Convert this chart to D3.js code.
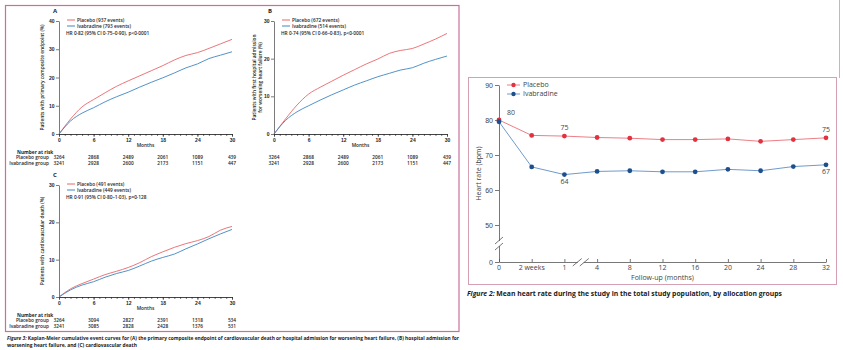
<!DOCTYPE html>
<html>
<head>
<meta charset="utf-8">
<script src="https://cdn.jsdelivr.net/npm/d3@7"></script>
<style>
    body { margin: 0; background: #fff; }
    svg { display: block; font-family: "Open Sans", "DejaVu Sans", sans-serif; }
</style>
</head>
<body>
<div id="chart"></div>
<script>
    "use strict";

    // kaplan-meier curves, cumulative event rate (%) by month
    const kmMonths = [0, 2, 4, 6, 8, 10, 12, 14, 16, 18, 20, 22, 24, 26, 28, 30];
    const primaryPlacebo = [0, 5.3, 9.6, 12.2, 14.6, 16.9, 18.8, 20.6, 22.4, 24.2, 26.2, 27.8, 28.8, 30.3, 31.9, 33.5];
    const primaryIvabradine = [0, 4.6, 7.4, 9.3, 11.4, 13.2, 14.8, 16.6, 18.3, 19.9, 21.6, 23.4, 24.8, 26.7, 27.9, 29.1];
    const hospitalPlacebo = [0, 4.0, 7.7, 10.6, 12.4, 14.0, 15.6, 17.1, 18.6, 19.9, 21.4, 22.2, 22.7, 23.9, 25.2, 26.7];
    const hospitalIvabradine = [0, 3.6, 5.9, 7.5, 9.0, 10.4, 11.7, 13.0, 14.1, 15.2, 16.1, 17.0, 17.6, 18.8, 19.8, 20.7];
    const cvDeathPlacebo = [0, 2.2, 3.6, 4.8, 6.0, 6.9, 7.9, 9.2, 10.8, 12.1, 13.3, 14.3, 15.1, 16.2, 17.9, 18.9];
    const cvDeathIvabradine = [0, 1.9, 3.2, 4.1, 5.3, 6.3, 7.1, 8.3, 9.6, 10.6, 11.5, 12.9, 14.2, 15.6, 16.9, 18.1];

    // number at risk
    const riskMonths = [0, 6, 12, 18, 24, 30];
    const primaryRiskPlacebo = [3264, 2868, 2489, 2061, 1089, 439];
    const primaryRiskIvabradine = [3241, 2928, 2600, 2173, 1151, 447];
    const hospitalRiskPlacebo = [3264, 2868, 2489, 2061, 1089, 439];
    const hospitalRiskIvabradine = [3241, 2928, 2600, 2173, 1151, 447];
    const cvDeathRiskPlacebo = [3264, 3094, 2827, 2391, 1318, 534];
    const cvDeathRiskIvabradine = [3241, 3085, 2828, 2428, 1376, 531];

    // mean heart rate (bpm) by visit
    const hrVisits = ["0", "2 weeks", "1", "4", "8", "12", "16", "20", "24", "28", "32"];
    const hrPlacebo = [80.0, 75.6, 75.4, 75.0, 74.8, 74.4, 74.4, 74.6, 73.9, 74.4, 74.9];
    const hrIvabradine = [79.5, 66.6, 64.4, 65.3, 65.5, 65.2, 65.2, 65.9, 65.5, 66.7, 67.2];
    const hrTicks = [0, 50, 60, 70, 80, 90];

    const kmRed = "#e8676b";
    const kmBlue = "#3f86c2";
    const kmText = "#1e1e1e";

    let svg = d3.select("#chart").append("svg")
        .attr("width", 843)
        .attr("height", 350);

    svg.append("rect").attr("width", 843).attr("height", 350).attr("fill", "#fff");

    // draws one kaplan-meier panel with legend and number at risk
    function drawKmPanel(p) {
        let x = d3.scaleLinear().domain([0, 30]).range([p.left, p.right]);
        let y = d3.scaleLinear().domain([0, p.yMax]).range([p.bottom, p.top]);
        let g = svg.append("g").attr("class", "km-panel").attr("font-weight", 600);

        // monthly minor ticks
        g.append("g")
            .attr("transform", "translate(0," + p.bottom + ")")
            .call(d3.axisBottom(x).tickValues(d3.range(0, 31)).tickSize(2).tickSizeOuter(0).tickFormat(""))
            .call(a => a.selectAll("line, path").attr("stroke", "#222").attr("stroke-width", 0.6));

        g.append("g")
            .attr("transform", "translate(0," + p.bottom + ")")
            .call(d3.axisBottom(x).tickValues(riskMonths).tickSize(3).tickSizeOuter(0).tickPadding(1.5))
            .call(a => a.selectAll("line, path").attr("stroke", "#222").attr("stroke-width", 0.6))
            .call(a => a.selectAll("text").attr("font-size", 5).attr("fill", kmText).attr("font-family", null));

        g.append("g")
            .attr("transform", "translate(" + p.left + ",0)")
            .call(d3.axisLeft(y).tickValues(d3.range(0, p.yMax + 1, 10)).tickSize(3).tickSizeOuter(0).tickPadding(1.5))
            .call(a => a.selectAll("line, path").attr("stroke", "#222").attr("stroke-width", 0.6))
            .call(a => a.selectAll("text").attr("font-size", 5).attr("fill", kmText).attr("font-family", null));

        let line = d3.line()
            .x((d, i) => x(kmMonths[i]))
            .y(d => y(d))
            .curve(d3.curveMonotoneX);

        g.append("path").datum(p.placebo)
            .attr("d", line).attr("fill", "none").attr("stroke", kmRed).attr("stroke-width", 0.9);
        g.append("path").datum(p.ivabradine)
            .attr("d", line).attr("fill", "none").attr("stroke", kmBlue).attr("stroke-width", 0.9);

        // panel letter
        g.append("text")
            .attr("x", p.left - 6).attr("y", p.top - 8)
            .attr("font-size", 6).attr("font-weight", "bold").attr("fill", kmText)
            .text(p.letter);

        // legend
        let lx = p.left + 8;
        [[kmRed, p.legend[0]], [kmBlue, p.legend[1]]].forEach((item, i) => {
            g.append("line")
                .attr("x1", lx).attr("x2", lx + 8)
                .attr("y1", p.top - 1 + i * 6).attr("y2", p.top - 1 + i * 6)
                .attr("stroke", item[0]).attr("stroke-width", 1);
            g.append("text")
                .attr("x", lx + 10).attr("y", p.top - 1 + i * 6)
                .attr("dy", "0.35em").attr("font-size", 4.8).attr("fill", kmText)
                .text(item[1]);
        });
        g.append("text")
            .attr("x", lx - 1).attr("y", p.top + 12)
            .attr("dy", "0.35em").attr("font-size", 4.8).attr("fill", kmText)
            .text(p.legend[2]);

        // y label
        let ly = g.append("text")
            .attr("transform", "translate(" + (p.left - 15) + "," + ((p.top + p.bottom) / 2) + ") rotate(-90)")
            .attr("text-anchor", "middle").attr("font-size", 4.8).attr("fill", kmText);
        p.yLabel.forEach((t, i) => {
            ly.append("tspan").attr("x", 0).attr("dy", i === 0 ? (p.yLabel.length > 1 ? "-0.6em" : 0) : "1.2em").text(t);
        });

        g.append("text")
            .attr("x", (p.left + p.right) / 2).attr("y", p.bottom + 12.5)
            .attr("text-anchor", "middle").attr("font-size", 4.8).attr("fill", kmText)
            .text("Months");

        // number at risk
        if (p.riskTitles) {
            g.append("text")
                .attr("x", 17).attr("y", p.bottom + 19.5)
                .attr("font-size", 4.8).attr("font-weight", "bold").attr("fill", kmText)
                .text("Number at risk");
            ["Placebo group", "Ivabradine group"].forEach((t, i) => {
                g.append("text")
                    .attr("x", 49).attr("y", p.bottom + 25 + i * 5.5)
                    .attr("text-anchor", "end").attr("font-size", 4.8).attr("fill", kmText)
                    .text(t);
            });
        }
        [p.riskPlacebo, p.riskIvabradine].forEach((row, i) => {
            g.selectAll(null).data(row).enter().append("text")
                .attr("x", (d, j) => x(riskMonths[j]))
                .attr("y", p.bottom + 25 + i * 5.5)
                .attr("text-anchor", "middle").attr("font-size", 4.8).attr("fill", kmText)
                .text(d => d);
        });
    }

    // left figure frame
    svg.append("rect")
        .attr("x", 5.5).attr("y", 5.5).attr("width", 453.5).attr("height", 326)
        .attr("fill", "none").attr("stroke", "#c8709a").attr("stroke-width", 1.2);

    drawKmPanel({
        letter: "A", left: 59, right: 232, top: 21, bottom: 134, yMax: 40,
        placebo: primaryPlacebo, ivabradine: primaryIvabradine,
        legend: ["Placebo (937 events)", "Ivabradine (793 events)", "HR 0·82 (95% CI 0·75–0·90), p<0·0001"],
        yLabel: ["Patients with primary composite endpoint (%)"],
        riskTitles: true, riskPlacebo: primaryRiskPlacebo, riskIvabradine: primaryRiskIvabradine
    });

    drawKmPanel({
        letter: "B", left: 274, right: 447, top: 21, bottom: 134, yMax: 30,
        placebo: hospitalPlacebo, ivabradine: hospitalIvabradine,
        legend: ["Placebo (672 events)", "Ivabradine (514 events)", "HR 0·74 (95% CI 0·66–0·83), p<0·0001"],
        yLabel: ["Patients with first hospital admission", "for worsening heart failure (%)"],
        riskTitles: false, riskPlacebo: hospitalRiskPlacebo, riskIvabradine: hospitalRiskIvabradine
    });

    drawKmPanel({
        letter: "C", left: 59, right: 232, top: 185, bottom: 297, yMax: 30,
        placebo: cvDeathPlacebo, ivabradine: cvDeathIvabradine,
        legend: ["Placebo (491 events)", "Ivabradine (449 events)", "HR 0·91 (95% CI 0·80–1·03), p=0·128"],
        yLabel: ["Patients with cardiovascular death (%)"],
        riskTitles: true, riskPlacebo: cvDeathRiskPlacebo, riskIvabradine: cvDeathRiskIvabradine
    });

    // left caption
    let cap3 = [
        "Kaplan-Meier cumulative event curves for (A) the primary composite endpoint of cardiovascular death or hospital admission for worsening heart failure, (B) hospital admission for",
        "worsening heart failure, and (C) cardiovascular death"
    ];
    let c1 = svg.append("text").attr("x", 7).attr("y", 340)
        .attr("font-size", 4.9).attr("font-weight", "bold").attr("fill", "#1a1a1a")
        .attr("textLength", 452).attr("lengthAdjust", "spacingAndGlyphs");
    c1.append("tspan").attr("font-style", "italic").text("Figure 3: ");
    c1.append("tspan").text(cap3[0]);
    svg.append("text").attr("x", 7).attr("y", 346.5)
        .attr("font-size", 4.9).attr("font-weight", "bold").attr("fill", "#1a1a1a")
        .text(cap3[1]);

    // right figure: mean heart rate
    svg.append("line")
        .attr("x1", 839.5).attr("x2", 839.5).attr("y1", 0).attr("y2", 78)
        .attr("stroke", "#bbb").attr("stroke-width", 1);
    svg.append("rect")
        .attr("x", 468.5).attr("y", 77.5).attr("width", 368).attr("height", 207)
        .attr("fill", "none").attr("stroke", "#d4a0b4").attr("stroke-width", 1);

    let hx = d3.scalePoint().domain(hrVisits).range([499, 826]);
    let hy = d3.scaleLinear().domain([0, 50, 90]).range([262, 225, 85]);
    let hg = svg.append("g").attr("class", "hr-chart");
    let axisColor = "#555";

    hg.append("g")
        .attr("transform", "translate(0,262)")
        .call(d3.axisTop(hx).tickSize(3).tickSizeOuter(0).tickFormat(""))
        .call(a => a.selectAll("line, path").attr("stroke", axisColor).attr("stroke-width", 0.8));
    hg.selectAll(".xlab").data(hrVisits).enter().append("text")
        .attr("class", "xlab")
        .attr("x", d => hx(d)).attr("y", 270)
        .attr("text-anchor", "middle").attr("font-size", 7).attr("fill", "#444")
        .text(d => d);

    hg.append("g")
        .attr("transform", "translate(499,0)")
        .call(d3.axisLeft(hy).tickValues(hrTicks).tickSize(4).tickSizeOuter(0).tickPadding(2))
        .call(a => a.selectAll("line, path").attr("stroke", axisColor).attr("stroke-width", 0.8))
        .call(a => a.selectAll("text").attr("font-size", 7).attr("fill", "#444").attr("font-family", null));

    // axis breaks
    let bx = (hx("1") + hx("4")) / 2;
    let by = (hy(0) + hy(50)) / 2;
    hg.append("rect").attr("x", bx - 3).attr("y", 260).attr("width", 6).attr("height", 4).attr("fill", "#fff");
    [-3.5, 3.5].forEach(o => {
        hg.append("line")
            .attr("x1", bx + o - 4.5).attr("y1", 266).attr("x2", bx + o + 4.5).attr("y2", 258.5)
            .attr("stroke", axisColor).attr("stroke-width", 0.8);
    });
    hg.append("rect").attr("x", 497).attr("y", by - 2.5).attr("width", 4).attr("height", 5).attr("fill", "#fff");
    [-3, 3].forEach(o => {
        hg.append("line")
            .attr("x1", 495).attr("y1", by + o + 3.5).attr("x2", 503).attr("y2", by + o - 3.5)
            .attr("stroke", axisColor).attr("stroke-width", 0.8);
    });

    hg.append("text")
        .attr("transform", "translate(481," + ((hy(0) + hy(90)) / 2) + ") rotate(-90)")
        .attr("text-anchor", "middle").attr("font-size", 7).attr("fill", "#444")
        .text("Heart rate (bpm)");
    hg.append("text")
        .attr("x", (hx("0") + hx("32")) / 2).attr("y", 279.5)
        .attr("text-anchor", "middle").attr("font-size", 7).attr("fill", "#444")
        .text("Follow-up (months)");

    let series = [
        { name: "Placebo", values: hrPlacebo, line: "#ec7f86", dot: "#e2323f" },
        { name: "Ivabradine", values: hrIvabradine, line: "#6f9bcb", dot: "#1d4f8c" }
    ];
    let hline = d3.line().x((d, i) => hx(hrVisits[i])).y(d => hy(d));

    series.forEach((s, k) => {
        hg.append("path").datum(s.values)
            .attr("d", hline).attr("fill", "none").attr("stroke", s.line).attr("stroke-width", 1);
        hg.selectAll(null).data(s.values).enter().append("circle")
            .attr("cx", (d, i) => hx(hrVisits[i])).attr("cy", d => hy(d))
            .attr("r", 2.4).attr("fill", s.dot);

        // legend
        let ly = 85 + k * 9;
        hg.append("line").attr("x1", 507).attr("x2", 520).attr("y1", ly).attr("y2", ly)
            .attr("stroke", s.line).attr("stroke-width", 1);
        hg.append("circle").attr("cx", 513.5).attr("cy", ly).attr("r", 2.2).attr("fill", s.dot);
        hg.append("text").attr("x", 523).attr("y", ly).attr("dy", "0.35em")
            .attr("font-size", 7).attr("fill", "#444").text(s.name);
    });

    // value annotations
    let notes = [
        { s: 0, i: 0, dx: 8, dy: -5, anchor: "start" },
        { s: 0, i: 2, dx: 0, dy: -6, anchor: "middle" },
        { s: 1, i: 2, dx: 0, dy: 9, anchor: "middle" },
        { s: 0, i: 10, dx: 0, dy: -6, anchor: "middle" },
        { s: 1, i: 10, dx: 0, dy: 9, anchor: "middle" }
    ];
    hg.selectAll(".note").data(notes).enter().append("text")
        .attr("class", "note")
        .attr("x", d => hx(hrVisits[d.i]) + d.dx)
        .attr("y", d => hy(series[d.s].values[d.i]) + d.dy)
        .attr("text-anchor", d => d.anchor).attr("font-size", 7).attr("fill", "#444")
        .text(d => Math.round(series[d.s].values[d.i]));

    let c2 = svg.append("text").attr("x", 467).attr("y", 295.5)
        .attr("font-size", 6.5).attr("font-weight", "bold").attr("fill", "#1a1a1a")
        .attr("textLength", 315).attr("lengthAdjust", "spacingAndGlyphs");
    c2.append("tspan").attr("font-style", "italic").text("Figure 2: ");
    c2.append("tspan").text("Mean heart rate during the study in the total study population, by allocation groups");
</script>
</body>
</html>
